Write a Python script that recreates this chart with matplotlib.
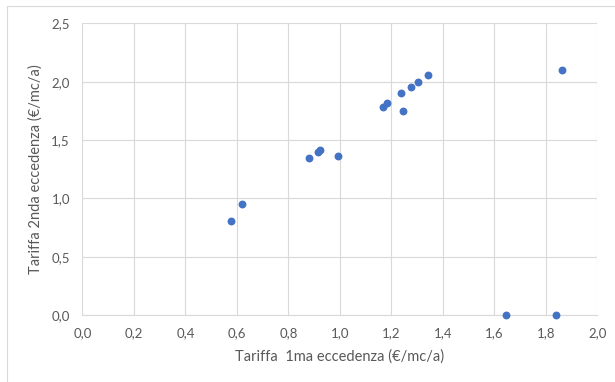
import matplotlib
matplotlib.use("Agg")
import matplotlib.pyplot as plt
from matplotlib.patches import Rectangle
from matplotlib.ticker import FuncFormatter

# tariff pairs (1st excess, 2nd excess), €/mc/a
tariffa_1ma = [0.578, 0.620, 0.879, 0.914, 0.922, 0.992, 1.166, 1.184, 1.239,
               1.247, 1.275, 1.305, 1.342, 1.645, 1.840, 1.864]
tariffa_2nda = [0.808, 0.951, 1.349, 1.400, 1.415, 1.363, 1.787, 1.821, 1.904,
                1.747, 1.956, 2.002, 2.062, 0.0, 0.0, 2.105]

x_ticks = [0.0, 0.2, 0.4, 0.6, 0.8, 1.0, 1.2, 1.4, 1.6, 1.8, 2.0]
y_ticks = [0.0, 0.5, 1.0, 1.5, 2.0, 2.5]

plt.rcParams['font.family'] = ['Lato', 'DejaVu Sans']
txt = '#595959'
grid = '#d9d9d9'

fig = plt.figure(figsize=(6.15, 3.82), dpi=100)
fig.patches.append(Rectangle((7 / 615, -0.1), 1.2, 1 - 6 / 382 + 0.1,
                             transform=fig.transFigure, fill=False,
                             edgecolor=grid, linewidth=0.8))

ax = fig.add_axes([0.1341, 0.1754, 0.8371, 0.7631])
ax.scatter(tariffa_1ma, tariffa_2nda, s=32, color='#4472C4', zorder=3,
           clip_on=False, linewidths=0)

ax.set_xlim(0, 2.0)
ax.set_ylim(0, 2.5)
ax.set_xticks(x_ticks)
ax.set_yticks(y_ticks)
fmt = FuncFormatter(lambda v, p: f'{v:.1f}'.replace('.', ','))
ax.xaxis.set_major_formatter(fmt)
ax.yaxis.set_major_formatter(fmt)
ax.grid(True, color=grid, linewidth=0.8)
ax.set_axisbelow(True)
for side in ['top', 'right', 'left']:
    ax.spines[side].set_visible(False)
ax.spines['bottom'].set_color(grid)
ax.spines['bottom'].set_linewidth(0.8)
ax.tick_params(length=0, labelsize=9.5, labelcolor=txt)
ax.tick_params(axis='x', pad=9)
ax.tick_params(axis='y', pad=9)

ax.set_xlabel('Tariffa  1ma eccedenza (€/mc/a)', fontsize=10.5, color=txt,
              labelpad=7)
ax.set_ylabel('Tariffa 2nda eccedenza (€/mc/a)', fontsize=10.5, color=txt,
              labelpad=6)

fig.savefig('out.png', dpi=100)
